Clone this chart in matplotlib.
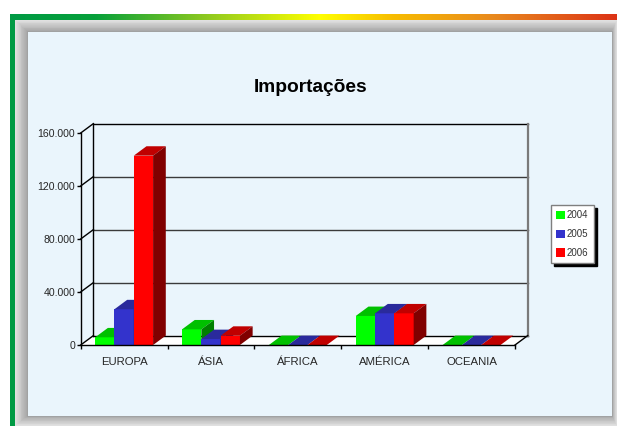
import numpy as np
import matplotlib
matplotlib.use('Agg')
import matplotlib.pyplot as plt
from matplotlib.patches import Rectangle, Polygon
from matplotlib.colors import LinearSegmentedColormap, to_rgb
from matplotlib import font_manager

# ---------------- data ----------------
categories = ['EUROPA', 'ÁSIA', 'ÁFRICA', 'AMÉRICA', 'OCEANIA']
years = ['2004', '2005', '2006']
values_2004 = [5800, 11800, 0, 21900, 0]
values_2005 = [27000, 4500, 0, 23900, 0]
values_2006 = [142900, 7000, 0, 23900, 0]
y_ticks = [0, 40000, 80000, 120000, 160000]
y_tick_labels = ['0', '40.000', '80.000', '120.000', '160.000']
title_text = 'Importações'

# ---------------- styles ----------------
front_colors = ['#00FF00', '#3333CC', '#FF0000']
top_colors = ['#00C000', '#2A2A9C', '#C00000']
side_colors = ['#008000', '#1A1A70', '#800000']

names = {f.name for f in font_manager.fontManager.ttflist}
NARROW_OK = 'Liberation Sans Narrow' in names
NARROW = 'Liberation Sans Narrow' if NARROW_OK else 'Liberation Sans'
plt.rcParams['font.family'] = ['Liberation Sans', 'DejaVu Sans']

W, H = 617, 426
fig = plt.figure(figsize=(W / 100, H / 100), dpi=100)
fig.patch.set_facecolor('white')

# ---------------- background decorations (pixel coords) ----------------
bg = fig.add_axes([0, 0, 1, 1])
bg.set_xlim(0, W)
bg.set_ylim(H, 0)
bg.axis('off')

# left green bar
bg.add_patch(Rectangle((10, 14), 5, H - 14, color='#009a44', lw=0))
# top gradient bar
cmap = LinearSegmentedColormap.from_list('bar', [
    (0.0, '#009a44'), (0.14, '#06a03a'), (0.32, '#8cc820'),
    (0.51, '#ffff00'), (0.63, '#f7bd00'), (0.80, '#e8881e'), (1.0, '#dc3316')])
grad = np.linspace(0, 1, 512)[None, :]
bg.imshow(grad, cmap=cmap, extent=(10, W, 20, 14), aspect='auto', interpolation='bilinear')
bg.set_xlim(0, W)
bg.set_ylim(H, 0)

# gray bevel frame
N = 14
c0 = np.array(to_rgb('#e0e0e0'))
c1 = np.array(to_rgb('#a6a6a6'))
for k in range(N):
    t = k / (N - 1)
    x0 = 15 + 12 * t
    y0 = 20 + 11 * t
    x1 = W - 5 * t
    y1 = H - 10 * t
    bg.add_patch(Rectangle((x0, y0), x1 - x0, y1 - y0, color=c0 + (c1 - c0) * t, lw=0))
# light-blue panel
bg.add_patch(Rectangle((27, 31), 612 - 27, 416 - 31, facecolor='#EAF5FC', edgecolor='#9a9a9a', lw=0.6))

# title
bg.text(310.5, 88, title_text, ha='center', va='center', fontsize=13.75,
        fontweight='bold', color='black')

# ---------------- chart axes ----------------
AX_L, AX_R, AX_T, AX_B = 80.7, 515.0, 133.0, 345.0
ax = fig.add_axes([AX_L / W, (H - AX_B) / H, (AX_R - AX_L) / W, (AX_B - AX_T) / H])
ax.patch.set_visible(False)
n_cat = len(categories)
ax.set_xlim(-0.5, n_cat - 0.5)
ax.set_ylim(y_ticks[0], y_ticks[-1])

# depth offset (pixels -> data units)
DEPTH_PX = (12.7, 9.4)
ddx = DEPTH_PX[0] / (AX_R - AX_L) * n_cat
ddy = DEPTH_PX[1] / (AX_B - AX_T) * (y_ticks[-1] - y_ticks[0])

xl, xr = -0.5, n_cat - 0.5
kw = dict(clip_on=False)

# floor
ax.add_patch(Polygon([(xl, 0), (xr, 0), (xr + ddx, ddy), (xl + ddx, ddy)],
                     closed=True, facecolor='white', edgecolor='none', zorder=1, **kw))
# back wall grid lines
for yv in y_ticks:
    col = 'black' if yv in (0, y_ticks[-1]) else '#3a3a3a'
    ax.plot([xl + ddx, xr + ddx], [yv + ddy, yv + ddy], color=col, lw=1.0, zorder=2, **kw)
    # left wall diagonals
    ax.plot([xl, xl + ddx], [yv, yv + ddy], color='black', lw=1.0, zorder=2, **kw)
# back wall verticals
ax.plot([xl + ddx, xl + ddx], [ddy, y_ticks[-1] + ddy], color='black', lw=1.0, zorder=2, **kw)
ax.plot([xr + ddx, xr + ddx], [ddy, y_ticks[-1] + ddy], color='#7a7a7a', lw=1.6, zorder=2, **kw)
# floor right diagonal
ax.plot([xr, xr + ddx], [0, ddy], color='black', lw=1.0, zorder=2, **kw)

# bars
series = [values_2004, values_2005, values_2006]
group_w = 2.0 / 3.0
bw = group_w / len(series)
handles = []
for i in range(n_cat):
    for j, vals in enumerate(series):
        v = vals[i]
        x0 = i - group_w / 2 + j * bw
        x1 = x0 + bw
        z = 3 + i * 3 + j
        b = ax.bar(x0, v, width=bw, align='edge', color=front_colors[j],
                   lw=0, zorder=z, **kw)
        ax.add_patch(Polygon([(x0, v), (x1, v), (x1 + ddx, v + ddy), (x0 + ddx, v + ddy)],
                             closed=True, facecolor=top_colors[j], edgecolor='none',
                             zorder=z, **kw))
        if v > 0:
            ax.add_patch(Polygon([(x1, 0), (x1, v), (x1 + ddx, v + ddy), (x1 + ddx, ddy)],
                                 closed=True, facecolor=side_colors[j], edgecolor='none',
                                 zorder=z, **kw))
        if i == 0:
            handles.append(b)

# axes spines / ticks
for s in ('top', 'right'):
    ax.spines[s].set_visible(False)
for s in ('left', 'bottom'):
    ax.spines[s].set_color('black')
    ax.spines[s].set_linewidth(1.0)
    ax.spines[s].set_zorder(50)

ysize = 8.5 if NARROW_OK else 7.6
xsize = 9 if NARROW_OK else 8.2
lsize = 7.5 if NARROW_OK else 7.0

ax.set_yticks(y_ticks)
ax.set_yticklabels(y_tick_labels)
ax.tick_params(axis='y', direction='out', length=3, width=1, pad=1,
               labelsize=ysize, labelcolor='#262626', colors='black')
for lab in ax.get_yticklabels():
    lab.set_family([NARROW, 'DejaVu Sans'])

ax.set_xticks(np.arange(n_cat + 1) - 0.5)
ax.set_xticklabels([])
ax.set_xticks(np.arange(n_cat), minor=True)
ax.set_xticklabels(categories, minor=True)
ax.tick_params(axis='x', which='major', direction='out', length=3, width=1, colors='black')
ax.tick_params(axis='x', which='minor', length=0, pad=8.5, labelsize=xsize, labelcolor='#262626')
for lab in ax.get_xticklabels(minor=True):
    lab.set_family([NARROW, 'DejaVu Sans'])

# legend
leg = ax.legend(handles=handles, labels=years, loc='upper left',
                bbox_to_anchor=(551 / W, 1 - 205 / H), bbox_transform=fig.transFigure,
                fontsize=lsize, handlelength=0.9, handleheight=0.9, handletextpad=0.2,
                labelspacing=0.9, borderpad=0.55, borderaxespad=0, fancybox=False,
                framealpha=1, facecolor='white', edgecolor='#7f7f7f',
                shadow={'color': 'black', 'alpha': 1})
leg.get_frame().set_linewidth(1.0)
for t in leg.get_texts():
    t.set_color('#333333')
    t.set_family([NARROW, 'DejaVu Sans'])

fig.savefig('out.png', dpi=100)
